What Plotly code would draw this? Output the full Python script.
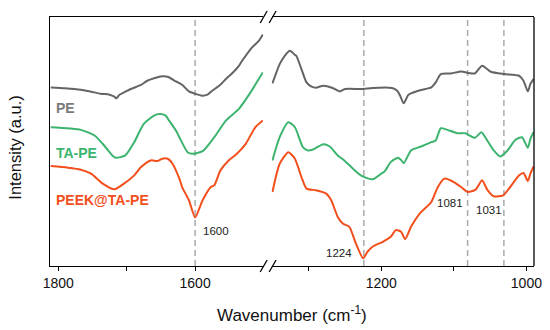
import plotly.graph_objects as go

# ---------------- data (wavenumber cm-1, intensity a.u.) ----------------
# left window (1812 -> 1500)
pe_left_wn = [1811, 1790, 1767, 1752, 1738, 1725, 1718, 1715, 1711, 1703, 1694, 1680, 1670, 1660,
              1648, 1640, 1628, 1619, 1609, 1600, 1590, 1582, 1575, 1563, 1555, 1545, 1536, 1532,
              1517, 1507, 1501]
pe_left_i = [179.3, 178.5, 177, 175, 173, 172, 170, 168.3, 171.7, 174.5, 177.7, 181.5, 186, 188.5,
             190.5, 190, 185.3, 182, 175.3, 173, 171, 172, 176, 182, 187.7, 194, 201, 205.3,
             219.3, 226, 232.5]

ta_left_wn = [1811, 1767, 1747, 1733, 1721, 1716, 1702, 1689, 1675, 1660, 1652, 1643, 1638, 1628,
              1623, 1611, 1604, 1589, 1572, 1555, 1536, 1519, 1507, 1501]
ta_left_i = [139.3, 136.7, 131, 121, 111, 108.7, 111, 124.3, 142.7, 151, 152.5, 151, 146, 136,
             129.3, 114.3, 112.7, 115.3, 129.3, 146, 157.7, 174.3, 187.7, 194.3]

peek_left_wn = [1811, 1786, 1767, 1752, 1735, 1718, 1704, 1689, 1679, 1665, 1655, 1648, 1640, 1633,
                1623, 1619, 1609, 1600, 1589, 1577, 1572, 1563, 1551, 1539, 1526, 1512, 1501]
peek_left_i = [100.3, 98.7, 96.7, 92.7, 82.7, 77, 82.7, 91, 99.3, 106, 105.5, 107.7, 107.7, 102.7,
               87.7, 79.3, 66, 48.7, 66, 79.3, 81, 96, 106, 112.7, 122.7, 139.3, 146]

# right window (1351 -> 989)
pe_right_wn = [1350, 1340, 1333, 1326, 1319, 1317, 1310, 1303, 1296, 1290, 1280, 1267, 1257, 1250,
               1225, 1212, 1185, 1178, 1174, 1169, 1163, 1159, 1145, 1131, 1125, 1118, 1104, 1090,
               1079, 1071, 1061, 1049, 1031, 1010, 1004, 998, 994.5, 990]
pe_right_i = [183.3, 202.7, 211, 216, 212, 211, 197.7, 184.3, 180, 179, 181, 178.7, 175.3, 177.7,
              177.7, 178.7, 178.7, 176, 171, 163.3, 171.5, 173.3, 176.7, 179.3, 184.3, 192.7, 193.3, 195.3,
              193.7, 193.3, 201, 195, 192.7, 191, 186, 175.3, 182.7, 187.7]

ta_right_wn = [1350, 1340, 1328, 1319, 1308, 1301, 1294, 1280, 1271, 1260, 1251, 1239, 1227, 1212,
               1200, 1195, 1187, 1177, 1173, 1169, 1159, 1145, 1131, 1125, 1118, 1109, 1095, 1084,
               1071, 1062, 1054, 1045, 1036, 1026, 1015, 1006, 998, 994.5, 990]
ta_right_i = [106, 129.3, 144.3, 139.3, 119.3, 116, 117, 122.3, 120, 111, 106, 97.7, 90.5, 87,
              92.7, 95.3, 104.3, 108.7, 106.7, 103.3, 116, 120, 124.3, 126, 138.3, 136.7, 133.3, 133.3,
              128.7, 134.3, 126, 116, 110, 116, 126.7, 129.3, 118.7, 127.7, 134.3]

peek_right_wn = [1350, 1340, 1328, 1319, 1310, 1303, 1290, 1276, 1269, 1260, 1253, 1244, 1235, 1225,
                 1219, 1212, 1198, 1187, 1180, 1173, 1167, 1159, 1145, 1140, 1131, 1122, 1113, 1100,
                 1090, 1081, 1070, 1061, 1054, 1045, 1032, 1024, 1010, 1004, 998, 994.5, 990]
peek_right_i = [74.3, 102.7, 114.3, 107.7, 89.3, 77.7, 76, 72.7, 66, 49.3, 42.7, 39.3, 22.7, 7.7,
                14.3, 19.3, 24.3, 29.3, 36, 34.7, 27, 39.3, 54.3, 57.7, 64.3, 79.3, 87.7, 84.3,
                79.3, 74.3, 76.7, 86, 76.7, 70, 71, 77.7, 91, 93.3, 85.3, 92.7, 100]

series_names = ["PE", "TA-PE", "PEEK@TA-PE"]
peak_marks = [1600, 1224, 1081, 1031]
peak_labels = ["1600", "1224", "1081", "1031"]
left_ticks = [1800, 1700, 1600]
left_ticktext = ["1800", "", "1600"]
right_ticks = [1300, 1200, 1100, 1000]
right_ticktext = ["", "1200", "", "1000"]

# ---------------- styling ----------------
colors = ["#646464", "#3cb46e", "#f24f1c"]
label_colors = ["#7a7a7a", "#3cb46e", "#f24f1c"]
FONT = "Arial, Liberation Sans, sans-serif"

# page body has an 8px default margin -> compensate
OFF = 8
SW, SH = 550, 330            # screen size
W, H = SW - OFF, SH - OFF    # figure size
PL, PR, PT, PB = 50, 537, 16, 266   # plot area in screen pixels
L, T = PL - OFF, PT - OFF
R = W - (PR - OFF)
B = H - (PB - OFF)
pw = PR - PL
ph = PB - PT


def px_x(p):  # screen px -> paper
    return (p - PL) / pw


def px_y(p):
    return (PB - p) / ph


fig = go.Figure()
lefts = [(pe_left_wn, pe_left_i), (ta_left_wn, ta_left_i), (peek_left_wn, peek_left_i)]
rights = [(pe_right_wn, pe_right_i), (ta_right_wn, ta_right_i), (peek_right_wn, peek_right_i)]
for k in range(3):
    fig.add_trace(go.Scatter(x=lefts[k][0], y=lefts[k][1], mode="lines", xaxis="x", yaxis="y",
                             line=dict(color=colors[k], width=2, shape="spline", smoothing=0.6),
                             showlegend=False, hoverinfo="skip", name=series_names[k]))
    fig.add_trace(go.Scatter(x=rights[k][0], y=rights[k][1], mode="lines", xaxis="x2", yaxis="y",
                             line=dict(color=colors[k], width=2, shape="spline", smoothing=0.6),
                             showlegend=False, hoverinfo="skip", name=series_names[k]))

axis_common = dict(showline=True, linecolor="black", linewidth=1.3, mirror=True, ticks="outside",
                   ticklen=4, tickwidth=1.2, tickcolor="black", showgrid=False, zeroline=False,
                   tickfont=dict(family=FONT, size=14, color="#111"))

fig.update_layout(
    width=W, height=H, margin=dict(l=L, r=R, t=T, b=B, pad=0),
    paper_bgcolor="white", plot_bgcolor="white",
    xaxis=dict(domain=[0, px_x(264.5)], range=[1812.1, 1500.5], tickvals=left_ticks,
               ticktext=left_ticktext, anchor="y", **axis_common),
    xaxis2=dict(domain=[px_x(273), 1], range=[1351.1, 989.5], tickvals=right_ticks,
                ticktext=right_ticktext, anchor="y", **axis_common),
    yaxis=dict(range=[0, 250], showticklabels=False, ticks="", showgrid=False, zeroline=False,
               showline=True, linecolor="black", linewidth=1.3, anchor="x"),
)

shapes = []
# right border
shapes.append(dict(type="line", xref="paper", yref="paper", x0=1, x1=1, y0=0, y1=1,
                   line=dict(color="black", width=1.3)))
# dashed peak lines
for wn in peak_marks:
    xr = "x" if wn > 1450 else "x2"
    shapes.append(dict(type="line", xref=xr, yref="paper", x0=wn, x1=wn, y0=0, y1=1,
                       line=dict(color="#aaaaaa", width=1.5, dash="6px,4px"), layer="below"))
# axis break marks
for yc in (PT, PB):
    for dx in (0, 9):
        shapes.append(dict(type="line", xref="paper", yref="paper",
                           x0=px_x(261.5 + dx), y0=px_y(yc + 6), x1=px_x(268.5 + dx), y1=px_y(yc - 6),
                           line=dict(color="black", width=1.3)))
fig.update_layout(shapes=shapes)

ann = []
label_y = [159, 113.5, 66]
for k in range(3):
    ann.append(dict(text="<b>%s</b>" % series_names[k], xref="paper", yref="y", x=px_x(54), y=label_y[k],
                    xanchor="left", yanchor="middle", showarrow=False,
                    font=dict(family=FONT, size=14, color=label_colors[k])))
peak_pos = [("x", 1592, 35.3, "left"), ("x2", 1258.6, 13, "center"),
            ("x2", 1105.2, 63.3, "center"), ("x2", 1051.8, 56, "center")]
for (xr, xv, yv, anc), t in zip(peak_pos, peak_labels):
    ann.append(dict(text=t, xref=xr, yref="y", x=xv, y=yv, xanchor=anc, yanchor="middle",
                    showarrow=False, font=dict(family=FONT, size=11.5, color="#222")))
ann.append(dict(text="Wavenumber (cm<sup>-1</sup>)", xref="paper", yref="paper", x=0.5, y=px_y(314),
                xanchor="center", yanchor="middle", showarrow=False,
                font=dict(family=FONT, size=17, color="#111")))
ann.append(dict(text="Intensity (a.u.)", xref="paper", yref="paper", x=px_x(15), y=px_y(147),
                xanchor="center", yanchor="middle", textangle=-90, showarrow=False,
                font=dict(family=FONT, size=16.5, color="#111")))
fig.update_layout(annotations=ann)

fig.write_html("out.html", config={"displayModeBar": False})
